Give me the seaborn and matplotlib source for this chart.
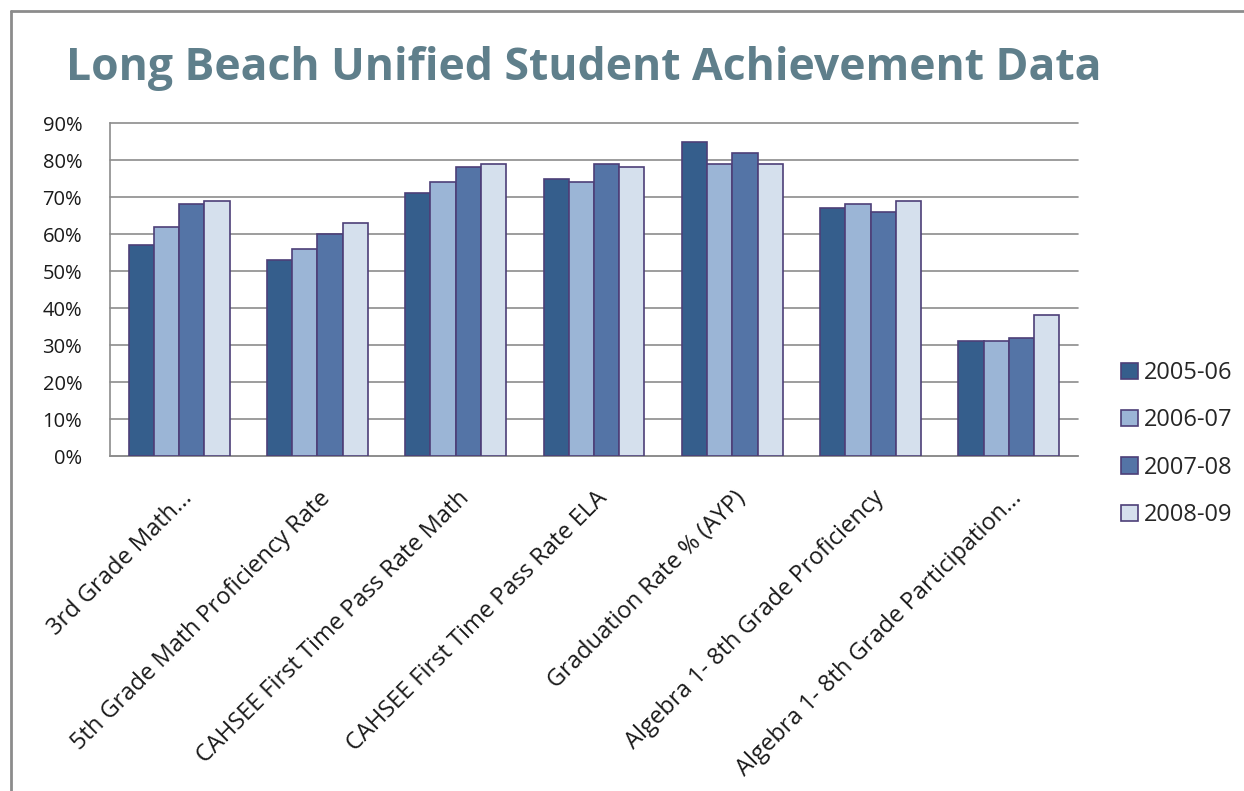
import matplotlib
matplotlib.use("Agg")
import matplotlib.pyplot as plt
import matplotlib.transforms as mtransforms
from matplotlib.lines import Line2D
from matplotlib.ticker import PercentFormatter
import numpy as np
import pandas as pd
import seaborn as sns

# data
categories = [
    "3rd Grade Math...",
    "5th Grade Math Proficiency Rate",
    "CAHSEE First Time Pass Rate Math",
    "CAHSEE First Time Pass Rate ELA",
    "Graduation Rate % (AYP)",
    "Algebra 1- 8th Grade Proficiency",
    "Algebra 1- 8th Grade Participation...",
]
years = ["2005-06", "2006-07", "2007-08", "2008-09"]
y2005 = [0.57, 0.53, 0.71, 0.75, 0.85, 0.67, 0.31]
y2006 = [0.62, 0.56, 0.74, 0.74, 0.79, 0.68, 0.31]
y2007 = [0.68, 0.60, 0.78, 0.79, 0.82, 0.66, 0.32]
y2008 = [0.69, 0.63, 0.79, 0.78, 0.79, 0.69, 0.38]
colors = ["#355E8C", "#9BB5D6", "#5474A6", "#D5E0ED"]

df = pd.DataFrame({
    "category": categories * 4,
    "year": [y for y in years for _ in categories],
    "rate": y2005 + y2006 + y2007 + y2008,
})

sns.set_style("white")
plt.rcParams["font.family"] = ["Open Sans", "DejaVu Sans"]

fig = plt.figure(figsize=(12.44, 7.91), dpi=100)
ax = fig.add_axes([0.0884, 0.4235, 0.7782, 0.421])

sns.barplot(data=df, x="category", y="rate", hue="year", palette=colors,
            saturation=1, width=0.73, gap=0, edgecolor="#4D3F78", linewidth=1.2,
            errorbar=None, ax=ax, legend=True, zorder=3)

ax.set_ylim(0, 0.9)
ax.set_xlim(-0.5, len(categories) - 0.5)
ax.set_yticks(np.arange(0, 0.91, 0.1))
ax.yaxis.set_major_formatter(PercentFormatter(1.0, decimals=0))
ax.grid(axis="y", color="#8C8C8C", linewidth=1.2, zorder=0)
for gl in ax.get_ygridlines():
    gl.set_clip_on(False)
ax.set_xlabel("")
ax.set_ylabel("")
sns.despine(ax=ax, top=True, right=True)
ax.spines["left"].set_color("#8C8C8C")
ax.spines["bottom"].set_color("#8C8C8C")
ax.spines["left"].set_linewidth(1.2)
ax.spines["bottom"].set_linewidth(1.2)
ax.tick_params(axis="y", length=0, pad=20, labelsize=14.5, labelcolor="#1a1a1a")
ax.tick_params(axis="x", length=0, pad=28, labelsize=17, labelcolor="#1a1a1a")

offset = mtransforms.ScaledTranslation(7 / 72, 0, fig.dpi_scale_trans)
for lbl in ax.get_xticklabels():
    lbl.set_rotation(45)
    lbl.set_ha("right")
    lbl.set_va("center")
    lbl.set_rotation_mode("anchor")
    lbl.set_transform(lbl.get_transform() + offset)

handles, labels = ax.get_legend_handles_labels()
ax.get_legend().remove()
fig.legend(handles, labels, loc="center left", bbox_to_anchor=(0.892, 0.4387),
           frameon=False, fontsize=17, handlelength=0.68, handleheight=0.68,
           handletextpad=0.25, labelspacing=0.99, borderpad=0)

fig.text(0.469, 0.914, "Long Beach Unified Student Achievement Data",
         ha="center", va="center", fontsize=32, fontweight="bold", color="#5F7F8B")

# outer chart border (top and left edges visible)
fig.add_artist(Line2D([0.0085, 1.0], [0.986, 0.986], color="#8C8C8C", linewidth=2,
                      transform=fig.transFigure))
fig.add_artist(Line2D([0.0085, 0.0085], [0.0, 0.986], color="#8C8C8C", linewidth=2,
                      transform=fig.transFigure))

fig.savefig("out.png", dpi=100)
